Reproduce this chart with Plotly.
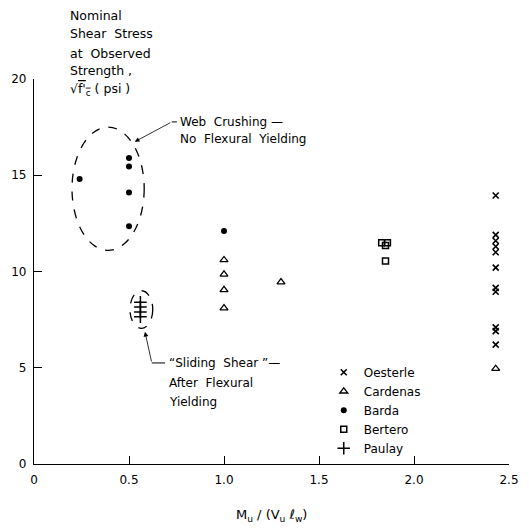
import plotly.graph_objects as go

FONT = "DejaVu Sans"

# Data
oesterle_x = [2.43] * 11
oesterle_y = [13.95, 11.9, 11.6, 11.3, 11.0, 10.2, 9.15, 8.95, 7.1, 6.9, 6.2]

cardenas_x = [1.0, 1.0, 1.0, 1.0, 1.3, 2.43]
cardenas_y = [10.6, 9.85, 9.05, 8.1, 9.45, 4.95]

barda_x = [0.24, 0.5, 0.5, 0.5, 0.5, 1.0]
barda_y = [14.8, 15.9, 15.45, 14.1, 12.35, 12.1]

bertero_x = [1.83, 1.86, 1.85, 1.85]
bertero_y = [11.5, 11.5, 11.35, 10.55]

paulay_x = [0.56, 0.56, 0.56, 0.56]
paulay_y = [8.4, 8.15, 7.9, 7.65]

x_ticks = [0, 0.5, 1.0, 1.5, 2.0, 2.5]
x_ticklabels = ["0", "0.5", "1.0", "1.5", "2.0", "2.5"]
y_ticks = [0, 5, 10, 15, 20]
y_ticklabels = ["0", "5", "10", "15", "20"]

title_lines = ["Nominal", "Shear  Stress", "at  Observed", "Strength ,",
               "\u221a<span style='text-decoration:overline'>f'<sub>c</sub></span> ( psi )"]

fig = go.Figure()
fig.add_trace(go.Scatter(x=oesterle_x, y=oesterle_y, mode="markers", name="Oesterle",
                         marker=dict(symbol="x-thin", size=6, color="black",
                                     line=dict(width=1.6, color="black"))))
fig.add_trace(go.Scatter(x=cardenas_x, y=cardenas_y, mode="markers", name="Cardenas",
                         marker=dict(symbol="triangle-up-open", size=7, color="black",
                                     line=dict(width=1.3))))
fig.add_trace(go.Scatter(x=barda_x, y=barda_y, mode="markers", name="Barda",
                         marker=dict(symbol="circle", size=6, color="black")))
fig.add_trace(go.Scatter(x=bertero_x, y=bertero_y, mode="markers", name="Bertero",
                         marker=dict(symbol="square-open", size=6, color="black",
                                     line=dict(width=1.5))))
fig.add_trace(go.Scatter(x=paulay_x, y=paulay_y, mode="markers", name="Paulay",
                         marker=dict(symbol="cross-thin", size=9, color="black",
                                     line=dict(width=1.5, color="black"))))

# dashed ellipses
fig.add_shape(type="circle", xref="x", yref="y", x0=0.2, x1=0.58, y0=11.1, y1=17.5,
              line=dict(color="black", width=1.3, dash="dash"))
fig.add_shape(type="circle", xref="x", yref="y", x0=0.505, x1=0.625, y0=7.05, y1=9.0,
              line=dict(color="black", width=1.3, dash="dash"))

# leader lines / arrows
fig.add_annotation(x=0.53, y=16.74, ax=0.725, ay=17.77, axref="x", ayref="y",
                   xref="x", yref="y", showarrow=True, arrowhead=2, arrowsize=1.2,
                   arrowwidth=0.8, arrowcolor="black", text="")
fig.add_shape(type="line", xref="x", yref="y", x0=0.725, x1=0.752, y0=17.77, y1=17.77,
              line=dict(color="black", width=1))
fig.add_annotation(x=0.584, y=6.87, ax=0.62, ay=5.25, axref="x", ayref="y",
                   xref="x", yref="y", showarrow=True, arrowhead=2, arrowsize=1.2,
                   arrowwidth=0.8, arrowcolor="black", text="")
fig.add_shape(type="line", xref="x", yref="y", x0=0.62, x1=0.69, y0=5.25, y1=5.25,
              line=dict(color="black", width=1))

def txt(x, y, s, ref="", size=12, anchor="left"):
    fig.add_annotation(x=x, y=y, xref=ref or "x", yref=ref or "y", text=s, showarrow=False,
                       xanchor=anchor, yanchor="middle",
                       font=dict(family=FONT, size=size, color="black"))

txt(0.758, 17.77, "Web  Crushing —")
txt(0.758, 16.88, "No  Flexural  Yielding")
txt(0.698, 5.25, "\u201cSliding  Shear \u201d\u2014")
txt(0.698, 4.21, "After  Flexural")
txt(0.698, 3.24, "Yielding")

# y-axis title block (paper coordinates, above the plot area)
title_y = [1.166, 1.117, 1.0675, 1.021, 0.974]
for s, yy in zip(title_lines, title_y):
    txt(0.0716, yy, s, ref="paper", size=12.5)

# x-axis title
txt(0.501, -0.1325, "M<sub>u</sub> / (V<sub>u</sub> \u2113<sub>w</sub>)", ref="paper",
    size=13, anchor="center")

fig.update_layout(
    width=521, height=521,
    margin=dict(l=26, r=20, t=71, b=65),
    paper_bgcolor="white", plot_bgcolor="white",
    font=dict(family=FONT, size=12, color="black"),
    showlegend=True,
    legend=dict(x=0.61, y=0.276, xanchor="left", yanchor="top",
                bgcolor="rgba(0,0,0,0)", font=dict(family=FONT, size=12),
                itemwidth=30, tracegroupgap=0),
    xaxis=dict(range=[0, 2.5], tickvals=x_ticks, ticktext=x_ticklabels, automargin=False,
               showgrid=False, zeroline=False, showline=True, linecolor="black",
               linewidth=1.3, ticks="inside", ticklen=8, tickwidth=1.3, tickcolor="black",
               ticklabelstandoff=4),
    yaxis=dict(range=[0, 20], tickvals=y_ticks, ticktext=y_ticklabels, automargin=False,
               showgrid=False, zeroline=False, showline=True, linecolor="black",
               linewidth=1.3, ticks="inside", ticklen=8, tickwidth=1.3, tickcolor="black",
               ticklabelstandoff=4),
)

fig.write_html("out.html")
